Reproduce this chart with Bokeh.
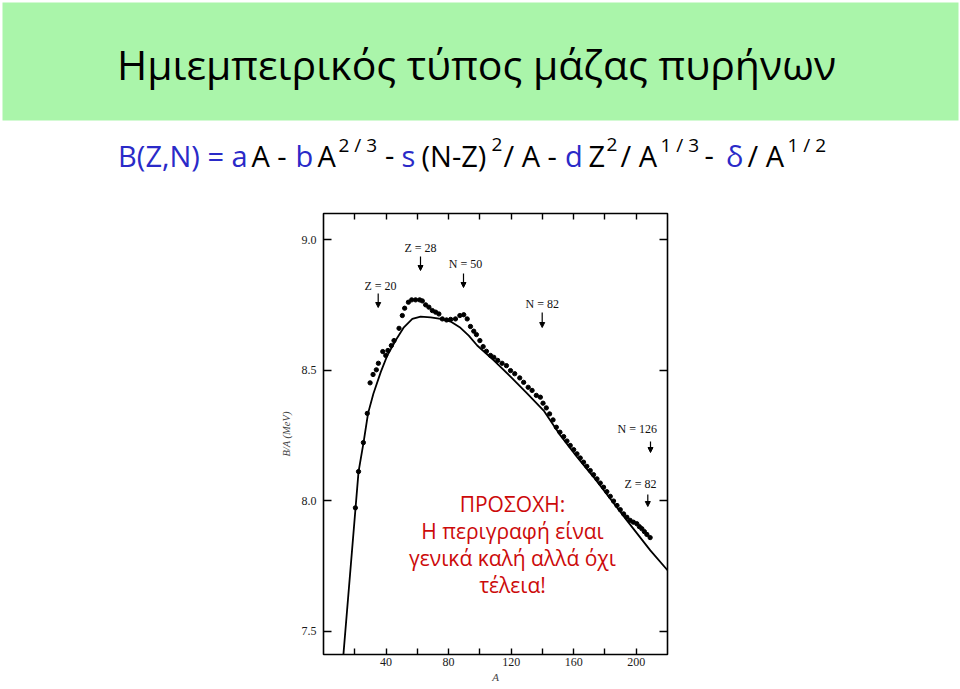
from bokeh.plotting import figure
from bokeh.models import (Range1d, Label, BoxAnnotation, Arrow, NormalHead,
                          LinearAxis, FixedTicker, PrintfTickFormatter)
from bokeh.embed import file_html
from bokeh.resources import INLINE

# ---------------- data ----------------
mass_number = [20.4, 22.4, 25.5, 28.0, 29.8, 31.7, 33.8, 35.1, 37.9, 39.8, 41.2, 43.4,
               45.1, 48.3, 50.4, 51.9, 54.3, 56.4, 58.9, 61.5, 63.2, 65.3, 67.4, 69.6,
               71.7, 73.8, 76.0, 78.7, 81.3, 84.4, 87.2, 89.7, 91.9, 94.0, 96.1, 97.8,
               100.0, 102.1, 104.2, 106.8, 108.9, 111.4, 114.2, 117.0, 119.6, 122.3,
               125.5, 128.0, 130.9, 133.4, 136.1, 138.7, 140.4, 142.5, 144.6, 146.8,
               148.9, 151.2, 153.6, 155.7, 157.8, 160.0, 162.1, 164.2, 166.3, 168.4,
               170.6, 172.7, 174.9, 177.0, 179.1, 181.2, 183.4, 185.5, 187.7, 189.8,
               191.9, 194.0, 196.1, 198.2, 200.4, 202.0, 203.6, 205.2, 206.8, 208.9]
binding_per_nucleon = [7.972, 8.111, 8.222, 8.334, 8.451, 8.483, 8.501, 8.526, 8.571, 8.556,
                       8.575, 8.594, 8.613, 8.660, 8.709, 8.737, 8.760, 8.769, 8.769, 8.769,
                       8.765, 8.750, 8.741, 8.728, 8.722, 8.715, 8.696, 8.692, 8.694, 8.696,
                       8.709, 8.712, 8.696, 8.667, 8.649, 8.636, 8.613, 8.590, 8.572, 8.556,
                       8.549, 8.537, 8.526, 8.517, 8.498, 8.486, 8.470, 8.453, 8.434, 8.422,
                       8.403, 8.396, 8.373, 8.355, 8.332, 8.309, 8.281, 8.262, 8.245, 8.228,
                       8.211, 8.195, 8.179, 8.163, 8.147, 8.131, 8.115, 8.099, 8.083, 8.067,
                       8.051, 8.034, 8.016, 7.998, 7.981, 7.965, 7.949, 7.936, 7.924, 7.917,
                       7.911, 7.900, 7.892, 7.881, 7.870, 7.858]

fit_A = [12.6, 20.5, 22.4, 25.6, 28.5, 31.9, 36.6, 40.8, 46.1, 51.4, 56.8, 62.1, 68.5,
         74.9, 81.3, 87.6, 92.9, 98.3, 108.9, 119.6, 130.2, 140.8, 151.5, 162.0, 172.7,
         183.5, 194.0, 209.0, 220.0]
fit_B = [7.40, 7.972, 8.110, 8.222, 8.334, 8.409, 8.492, 8.556, 8.613, 8.664, 8.696, 8.705,
         8.702, 8.696, 8.686, 8.662, 8.632, 8.594, 8.537, 8.475, 8.411, 8.345, 8.249, 8.168,
         8.090, 8.006, 7.924, 7.809, 7.733]

x_ticks = [20, 40, 60, 80, 100, 120, 140, 160, 180, 200]
x_tick_text = {20: "", 40: "40", 60: "", 80: "80", 100: "", 120: "120", 140: "",
               160: "160", 180: "", 200: "200"}
y_ticks = [7.5, 8.0, 8.5, 9.0]

shell_names = ["Z = 20", "Z = 28", "N = 50", "N = 82", "N = 126", "Z = 82"]

title_text = "Ημιεμπειρικός τύπος μάζας πυρήνων"
warning_lines = ["ΠΡΟΣΟΧΗ:", "Η περιγραφή είναι", "γενικά καλή αλλά όχι", "τέλεια!"]

# ---------------- layout / styles ----------------
W = 960
TOP_H = 200            # header figure (title band + formula)
CH_H = 489             # chart figure
FL, FR, FT, FB = 323, 667, 13, 454   # chart frame inside chart figure (pixels)
BLUE = "#2a2ac8"
SANS = "Open Sans"
SERIF = "Liberation Serif"

# ---- header figure: data units are page pixels ----
top = figure(width=W, height=TOP_H, x_range=Range1d(0, W), y_range=Range1d(TOP_H, 0),
             x_axis_type=None, y_axis_type=None, toolbar_location=None,
             output_backend="svg", min_border=0, outline_line_color=None)
top.xgrid.visible = False
top.ygrid.visible = False
top.add_layout(BoxAnnotation(left=2, right=958, top=2, bottom=120, fill_color="#aaf5aa",
                             fill_alpha=1.0, line_color=None, level="underlay"))
top.add_layout(Label(x=476, y=63, text=title_text, text_align="center",
                     text_baseline="alphabetic", text_font=SANS, text_font_size="41px",
                     text_color="black"))

# formula pieces: (x position, text, colour, superscript?)
formula = [
    (117.6, "B(Z,N) = a", BLUE, False),
    (251, "A -", "black", False),
    (295, "b", BLUE, False),
    (317, "A", "black", False),
    (338, "2 / 3", "black", True),
    (384.6, "-", "black", False),
    (401, "s", BLUE, False),
    (421, "(N-Z)", "black", False),
    (491, "2", "black", True),
    (503, "/ A -", "black", False),
    (564.6, "d", BLUE, False),
    (588, "Z", "black", False),
    (606, "2", "black", True),
    (620, "/ A", "black", False),
    (660, "1 / 3", "black", True),
    (704, "-", "black", False),
    (725.6, "δ", BLUE, False),
    (747, "/ A", "black", False),
    (787, "1 / 2", "black", True),
]
for fx, txt, col, sup in formula:
    top.add_layout(Label(x=fx, y=144 if sup else 155, text=txt, text_align="left",
                         text_baseline="alphabetic", text_font=SANS,
                         text_font_size="19px" if sup else "29px", text_color=col))

# ---- chart figure ----
p = figure(width=W, height=CH_H, x_range=Range1d(0, 220), y_range=Range1d(7.41, 9.10),
           x_axis_type=None, y_axis_type=None, toolbar_location=None,
           output_backend="svg", min_border_left=FL, min_border_right=W - FR,
           min_border_top=FT, min_border_bottom=CH_H - FB,
           outline_line_color="black", outline_line_width=1.6)
p.xgrid.visible = False
p.ygrid.visible = False

x_scale = (FR - FL) / 220.0
y_scale = (FB - FT) / (9.10 - 7.41)


def dx(px):
    return (px - FL) / x_scale


def dy(py):       # py given in page pixels
    return 9.10 - (py - TOP_H - FT) / y_scale


def style_axis(ax, tick_len, show_labels):
    ax.axis_line_color = None
    ax.major_tick_in = tick_len
    ax.major_tick_out = 0
    ax.major_tick_line_width = 1.4
    ax.major_tick_line_color = "black"
    ax.minor_tick_line_color = None
    ax.major_label_text_font = SERIF
    ax.major_label_text_font_size = "12px"
    ax.major_label_text_color = "#1a1a1a" if show_labels else None


xb = LinearAxis(ticker=FixedTicker(ticks=x_ticks), major_label_overrides=x_tick_text,
                axis_label="A")
style_axis(xb, 6, True)
xb.major_label_standoff = 3
xb.axis_label_standoff = 2
xb.axis_label_text_font = SERIF
xb.axis_label_text_font_size = "11px"
xb.axis_label_text_font_style = "italic"
p.add_layout(xb, "below")

xt = LinearAxis(ticker=FixedTicker(ticks=x_ticks))
style_axis(xt, 6, False)
p.add_layout(xt, "above")

yl = LinearAxis(ticker=FixedTicker(ticks=y_ticks), axis_label="B/A (MeV)",
                formatter=PrintfTickFormatter(format="%.1f"))
style_axis(yl, 8, True)
yl.major_label_standoff = 7
yl.axis_label_standoff = 7
yl.axis_label_text_font = SERIF
yl.axis_label_text_font_size = "10.5px"
yl.axis_label_text_font_style = "italic"
p.add_layout(yl, "left")

yr = LinearAxis(ticker=FixedTicker(ticks=y_ticks))
style_axis(yr, 8, False)
p.add_layout(yr, "right")

p.line(fit_A, fit_B, line_width=1.8, line_color="black")
p.scatter(mass_number, binding_per_nucleon, size=4.3, fill_color="black",
          line_color="black")

# shell-closure annotations in page pixels: label centre, arrow x, arrow y start / end
shell_layout = [
    (380, 285, 377.7, 293, 307),
    (420, 247, 420, 256, 270),
    (465, 263, 463, 273, 287),
    (541.7, 303, 541.7, 312, 327),
    (636.7, 428, 650, 441, 452),
    (640, 483, 647.3, 494, 506),
]
for name, (lx, ly, ax_, ay0, ay1) in zip(shell_names, shell_layout):
    p.add_layout(Label(x=dx(lx), y=dy(ly), text=name, text_align="center",
                       text_baseline="middle", text_font=SERIF, text_font_size="12px",
                       text_color="#111111"))
    p.add_layout(Arrow(x_start=dx(ax_), y_start=dy(ay0), x_end=dx(ax_), y_end=dy(ay1),
                       line_width=1.2, line_color="black",
                       end=NormalHead(size=5, fill_color="black", line_color="black")))

for txt, yy in zip(warning_lines, [503, 530, 557, 584]):
    p.add_layout(Label(x=dx(512), y=dy(yy), text=txt, text_align="center",
                       text_baseline="middle", text_font=SANS, text_font_size="21px",
                       text_color="#cc0a0a"))

open("out.html", "w").write(file_html([top, p], INLINE))
